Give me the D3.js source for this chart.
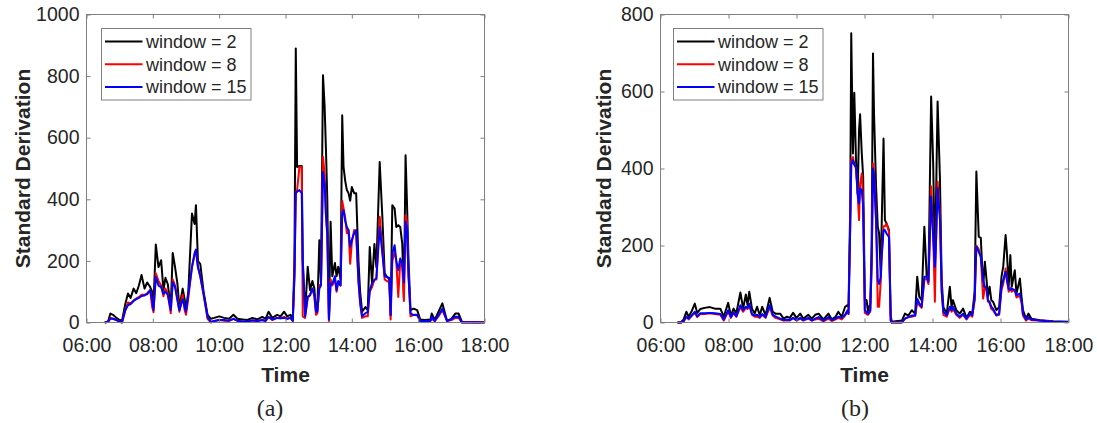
<!DOCTYPE html>
<html>
<head>
<meta charset="utf-8">
<script src="https://cdn.jsdelivr.net/npm/d3@7"></script>
<style>
body{margin:0;background:#fff;}
svg text{font-family:"Liberation Sans",Arial,sans-serif;fill:#262626;}
</style>
</head>
<body>
<div id="chart"></div>
<script>
// ---- panel (a) : time in hours, std values per window size
var timeA=[6.55,6.65,6.72,6.8,6.9,7.0,7.07,7.17,7.25,7.33,7.42,7.5,7.58,7.66,7.75,7.83,7.92,7.98,8.02,8.09,8.17,8.25,8.32,8.38,8.45,8.54,8.6,8.67,8.74,8.8,8.9,8.96,9.0,9.07,9.18,9.26,9.3,9.36,9.43,9.53,9.65,9.75,9.85,10.0,10.15,10.3,10.43,10.55,10.7,10.85,11.0,11.15,11.3,11.4,11.49,11.6,11.75,11.85,11.96,12.05,12.15,12.22,12.27,12.31,12.35,12.42,12.49,12.52,12.59,12.67,12.74,12.81,12.87,12.92,12.96,13.02,13.07,13.13,13.18,13.22,13.26,13.31,13.36,13.41,13.49,13.54,13.59,13.66,13.71,13.75,13.8,13.85,13.9,13.95,14.0,14.07,14.13,14.2,14.25,14.31,14.41,14.48,14.54,14.61,14.68,14.74,14.84,14.92,14.99,15.05,15.13,15.17,15.22,15.29,15.34,15.4,15.46,15.52,15.57,15.62,15.66,15.71,15.77,15.86,15.97,16.06,16.2,16.37,16.41,16.5,16.61,16.73,16.87,17.0,17.12,17.22,17.32,17.5,18.0];
var win2A=[0,3,29,25,15,8,5,60,94,80,110,95,120,154,110,130,115,100,60,253,180,202,105,145,125,50,226,180,127,50,110,75,40,100,354,320,381,200,190,100,25,12,15,20,15,12,25,12,10,8,15,10,18,12,35,15,25,20,35,20,25,10,200,890,505,508,508,200,30,181,105,135,110,40,40,267,130,803,700,560,400,15,327,150,193,150,181,140,673,505,460,430,420,395,440,420,420,200,100,35,50,40,245,127,255,180,521,343,160,150,140,24,381,370,310,316,310,256,80,543,400,200,40,45,40,10,8,10,29,8,34,62,6,12,29,29,2,2,1];
var win8A=[0,2,15,12,8,3,0,40,65,62,72,78,82,90,90,95,105,50,33,160,135,120,85,110,95,30,140,120,80,35,90,40,25,80,180,220,235,180,150,90,12,0,5,8,6,5,12,5,3,2,6,5,8,5,18,8,15,14,18,12,15,5,150,420,430,505,505,20,15,80,90,110,85,25,30,120,125,538,480,350,280,5,140,120,140,100,130,120,395,370,340,290,300,191,260,300,290,130,60,15,20,20,100,115,140,140,343,240,140,135,130,10,200,230,200,83,200,180,70,348,330,150,20,25,25,6,5,6,12,4,20,40,5,8,15,15,0,1,0];
var win15A=[0,2,13,12,8,3,0,40,56,60,70,76,80,86,88,92,105,70,40,148,120,115,94,100,90,40,131,115,72,40,76,50,35,94,180,225,237,180,150,94,18,2,5,8,8,6,12,6,3,3,7,5,8,5,18,10,15,14,15,12,15,5,150,419,425,430,420,202,20,84,88,110,90,35,35,110,120,489,450,350,290,10,127,125,150,105,135,120,354,365,330,310,300,246,268,290,300,138,70,20,30,35,105,127,138,143,310,225,150,148,145,24,225,251,200,170,208,190,130,327,310,150,30,24,24,5,5,5,19,5,23,45,5,10,19,19,0,1,0];

// ---- panel (b)
var timeB=[6.5,6.6,6.68,6.76,6.83,6.92,7.01,7.08,7.17,7.3,7.45,7.6,7.76,7.86,7.99,8.07,8.15,8.23,8.35,8.43,8.51,8.56,8.61,8.69,8.77,8.84,8.92,8.99,9.09,9.21,9.3,9.38,9.52,9.62,9.72,9.8,9.9,10.0,10.11,10.2,10.35,10.45,10.55,10.65,10.79,10.94,11.04,11.15,11.23,11.33,11.43,11.5,11.53,11.58,11.61,11.66,11.7,11.75,11.8,11.84,11.87,11.92,11.96,12.01,12.06,12.1,12.17,12.21,12.25,12.28,12.34,12.39,12.43,12.48,12.5,12.56,12.6,12.65,12.72,12.77,12.8,13.1,13.19,13.29,13.39,13.49,13.55,13.61,13.68,13.76,13.83,13.88,13.96,14.02,14.07,14.1,14.15,14.22,14.27,14.32,14.42,14.51,14.56,14.6,14.7,14.8,14.9,15.0,15.1,15.17,15.24,15.29,15.36,15.42,15.49,15.54,15.59,15.63,15.68,15.73,15.78,15.88,15.96,16.03,16.08,16.15,16.19,16.24,16.29,16.33,16.42,16.47,16.57,16.62,16.66,16.75,16.82,16.91,17.16,17.55,18.0];
var win2B=[0,0,8,28,15,30,49,25,35,38,40,36,36,15,51,18,36,24,78,36,73,45,80,36,23,41,19,41,19,64,28,23,23,10,15,12,25,12,23,10,20,10,20,23,8,23,8,15,28,15,41,45,40,300,751,439,597,422,335,500,541,439,379,60,58,30,50,200,699,543,353,249,231,119,231,478,266,257,240,20,2,5,23,18,32,23,119,67,58,249,119,110,587,413,150,300,574,370,110,40,23,93,40,58,32,23,36,12,28,23,80,392,223,220,93,158,110,67,93,58,54,32,40,119,145,227,179,93,175,93,136,75,114,66,32,10,23,10,6,3,2];
var win8B=[0,0,3,15,8,18,25,14,22,22,24,22,20,5,28,12,25,15,40,28,38,35,45,20,15,15,12,20,12,40,18,12,8,5,6,5,12,5,10,5,10,5,8,10,3,10,4,8,12,8,18,28,22,250,420,430,410,400,330,266,360,387,310,25,22,20,28,150,413,390,270,41,41,110,170,250,250,257,235,5,0,0,10,14,15,18,55,45,38,110,115,100,353,230,54,200,366,280,80,20,15,38,28,35,20,12,20,8,20,15,60,200,190,170,62,90,85,55,50,35,32,18,20,85,100,140,110,80,90,80,85,65,70,50,18,5,10,6,5,2,1];
var win15B=[0,0,3,15,10,18,28,16,24,24,25,24,22,8,32,14,26,16,45,32,41,38,49,22,18,20,14,22,14,45,20,16,10,6,8,6,12,6,12,6,12,5,10,14,5,14,6,10,15,12,20,32,23,250,410,422,410,405,335,309,348,344,300,32,27,22,32,150,400,380,266,110,100,119,162,240,240,231,222,6,0,0,10,14,18,18,62,50,41,119,119,106,327,222,145,200,348,266,84,28,19,41,32,41,23,15,23,10,23,19,60,197,184,171,110,93,88,58,54,41,36,19,23,93,110,132,110,88,84,88,84,71,75,58,23,8,14,8,5,2,1];

var xTicks=[6,8,10,12,14,16,18];
var yTicksA=[0,200,400,600,800,1000];
var yTicksB=[0,200,400,600,800];
var legendLabels=["window = 2","window = 8","window = 15"];
var colors=["#000000","#ff0000","#0000ff"];

var svg=d3.select("#chart").append("svg")
    .attr("width",1097)
    .attr("height",423);

var top_=14.5, bottom_=322.5;
var axisColor="#808080";

function hourLabel(h) {
    return (h<10?"0":"")+h+":00";
}

function drawPanel(opt) {
    var x=d3.scaleLinear().domain([6,18]).range([opt.left,opt.right]);
    var y=d3.scaleLinear().domain([0,opt.yMax]).range([bottom_,top_]);
    var g=svg.append("g");

    // the three series, blue drawn last (on top)
    opt.series.forEach(function(vals,i){
        g.append("path")
            .datum(opt.time.map(function(t,j){ return [t,vals[j]]; }))
            .attr("fill","none")
            .attr("stroke",colors[i])
            .attr("stroke-width",2)
            .attr("stroke-linejoin","round")
            .attr("d",d3.line()
                .x(function(d){ return x(d[0]); })
                .y(function(d){ return y(d[1]); }));
    });

    // axes, matlab style box with inward ticks on all sides
    var bottomAx=g.append("g").attr("transform","translate(0,"+bottom_+")")
        .call(d3.axisBottom(x).tickValues(xTicks).tickSize(-4).tickPadding(16).tickFormat(hourLabel));
    var topAx=g.append("g").attr("transform","translate(0,"+top_+")")
        .call(d3.axisTop(x).tickValues(xTicks).tickSize(-4).tickFormat(""));
    var leftAx=g.append("g").attr("transform","translate("+opt.left+",0)")
        .call(d3.axisLeft(y).tickValues(opt.yTicks).tickSize(-4).tickPadding(7).tickFormat(d3.format("d")));
    var rightAx=g.append("g").attr("transform","translate("+opt.right+",0)")
        .call(d3.axisRight(y).tickValues(opt.yTicks).tickSize(-4).tickFormat(""));
    [bottomAx,topAx,leftAx,rightAx].forEach(function(a){
        a.select(".domain").remove();
        a.selectAll(".tick line").attr("stroke",axisColor);
        a.selectAll("text").attr("font-size",19.5).attr("font-family",null).attr("fill","#262626");
    });
    g.append("rect")
        .attr("x",opt.left).attr("y",top_)
        .attr("width",opt.right-opt.left).attr("height",bottom_-top_)
        .attr("fill","none").attr("stroke",axisColor).attr("stroke-width",1);

    // axis titles
    var mid=(opt.left+opt.right)/2;
    g.append("text")
        .attr("x",mid).attr("y",382)
        .attr("text-anchor","middle")
        .attr("font-size",21).attr("font-weight","bold")
        .text("Time");
    g.append("text")
        .attr("transform","translate("+opt.titleX+","+((top_+bottom_)/2)+") rotate(-90)")
        .attr("text-anchor","middle")
        .attr("dy","0.36em")
        .attr("font-size",21).attr("font-weight","bold")
        .text("Standard Derivation");

    // caption
    svg.append("text")
        .attr("x",opt.capX).attr("y",416)
        .attr("text-anchor","middle")
        .style("font-family","'Liberation Serif','Times New Roman',serif")
        .attr("font-size",24)
        .text(opt.caption);

    // legend
    var lg=g.append("g").attr("transform","translate("+(opt.left+opt.legDx)+","+(top_+14)+")");
    lg.append("rect")
        .attr("width",149.5).attr("height",71.5)
        .attr("fill","#fff").attr("stroke",axisColor).attr("stroke-width",1);
    legendLabels.forEach(function(lab,i){
        var ly=13+i*22.7;
        lg.append("line")
            .attr("x1",3.5).attr("x2",41).attr("y1",ly).attr("y2",ly)
            .attr("stroke",colors[i]).attr("stroke-width",2);
        lg.append("text")
            .attr("x",44.5).attr("y",ly).attr("dy","0.36em")
            .attr("font-size",18).attr("fill","#000")
            .text(lab);
    });
}

drawPanel({left:86.5,right:484.5,yMax:1000,yTicks:yTicksA,time:timeA,
    series:[win2A,win8A,win15A],titleX:22,capX:270,caption:"(a)",legDx:15});
drawPanel({left:660.5,right:1068.5,yMax:800,yTicks:yTicksB,time:timeB,
    series:[win2B,win8B,win15B],titleX:603,capX:855,caption:"(b)",legDx:13});
</script>
</body>
</html>
